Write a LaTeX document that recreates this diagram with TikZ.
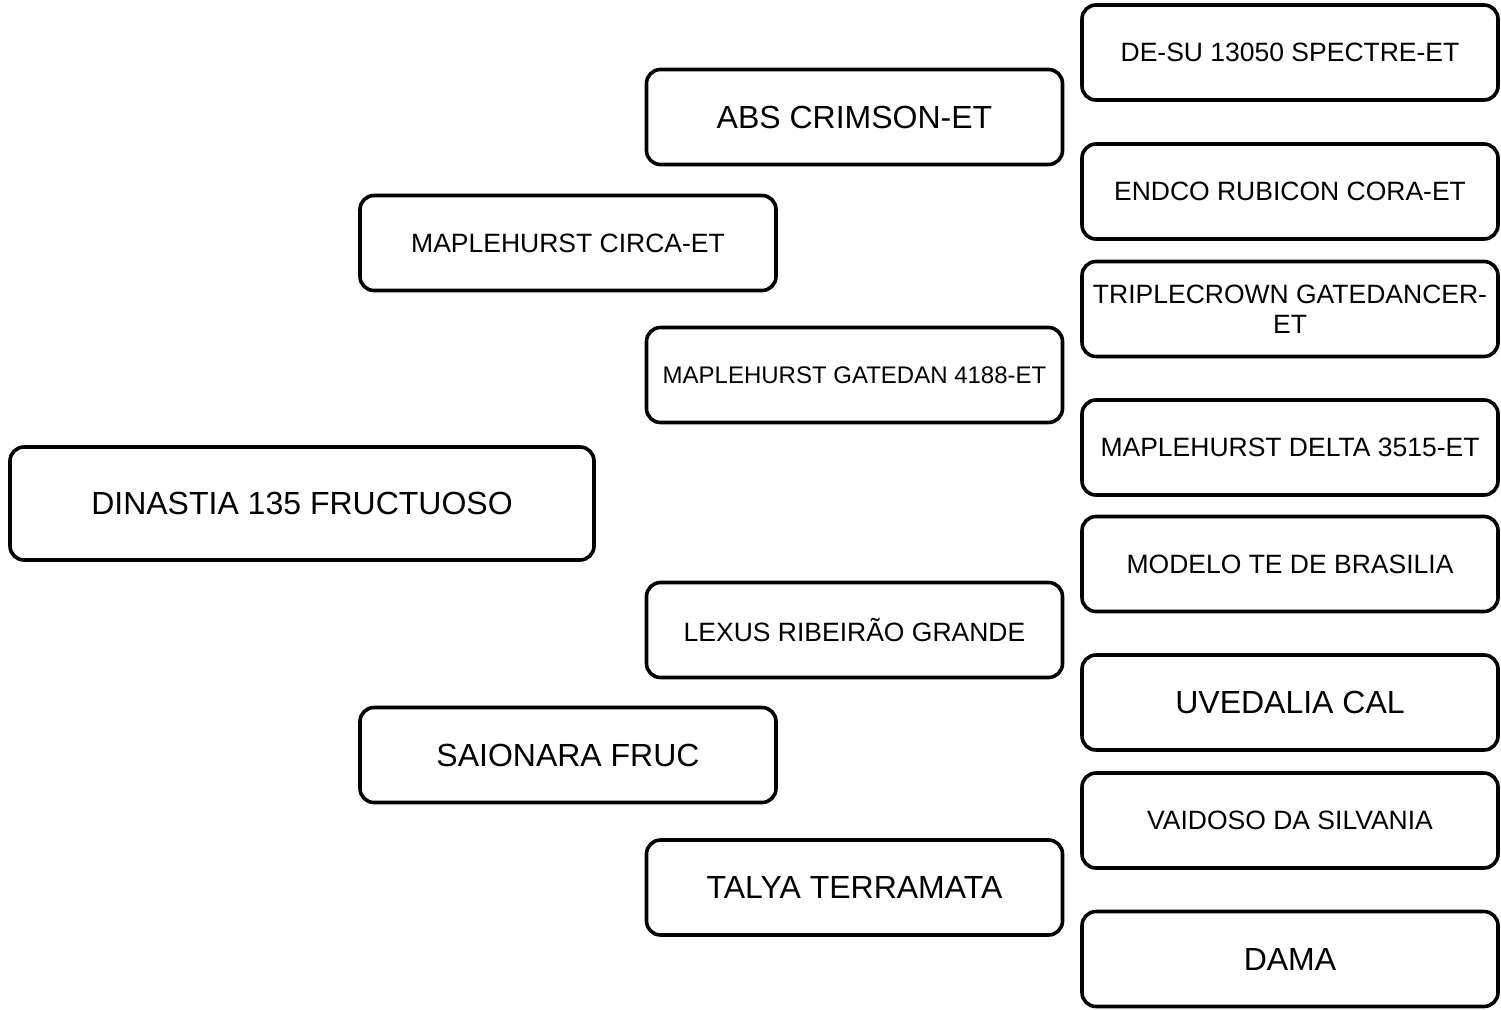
\documentclass[tikz,border=0pt]{standalone}
\usepackage{fontspec}
\setmainfont{Liberation Sans}
\usepackage{xcolor}
\usepackage{tikz}
\usetikzlibrary{positioning}

\begin{document}
\begin{tikzpicture}[
    x=1pt, y=-1pt,
    animal/.style={rectangle, draw, line width=3.6pt, rounded corners=14pt, minimum width=416pt, minimum height=95pt, align=center, inner sep=2pt},
    bigname/.style={animal, font=\fontsize{32}{36}\selectfont},
    smallname/.style={animal, font=\fontsize{26.5}{30}\selectfont},
    tinyname/.style={animal, font=\fontsize{24}{28}\selectfont}
]
\useasboundingbox (0,0) rectangle (1501,1009);

% subject
\node[bigname, minimum width=584pt, minimum height=113pt] (subject) at (302, 503.5) {DINASTIA 135 FRUCTUOSO};

% parents
\node[smallname] (sire) at (568, 243) {MAPLEHURST CIRCA-ET};
\node[bigname] (dam) at (568, 755) {SAIONARA FRUC};

% grandparents
\node[bigname] (ss) at (854.5, 117) {ABS CRIMSON-ET};
\node[tinyname] (sd) at (854.5, 375) {MAPLEHURST GATEDAN 4188-ET};
\node[smallname] (ds) at (854.5, 630) {LEXUS RIBEIRÃO GRANDE};
\node[bigname] (dd) at (854.5, 887.5) {TALYA TERRAMATA};

% great-grandparents
\node[smallname] (sss) at (1290, 52.5) {DE-SU 13050 SPECTRE-ET};
\node[smallname] (ssd) at (1290, 191.5) {ENDCO RUBICON CORA-ET};
\node[smallname] (sds) at (1290, 309) {TRIPLECROWN GATEDANCER-\\ET};
\node[smallname] (sdd) at (1290, 447.5) {MAPLEHURST DELTA 3515-ET};
\node[smallname] (dss) at (1290, 564) {MODELO TE DE BRASILIA};
\node[bigname] (dsd) at (1290, 702.5) {UVEDALIA CAL};
\node[smallname] (dds) at (1290, 820.5) {VAIDOSO DA SILVANIA};
\node[bigname] (ddd) at (1290, 959) {DAMA};

\end{tikzpicture}
\end{document}
